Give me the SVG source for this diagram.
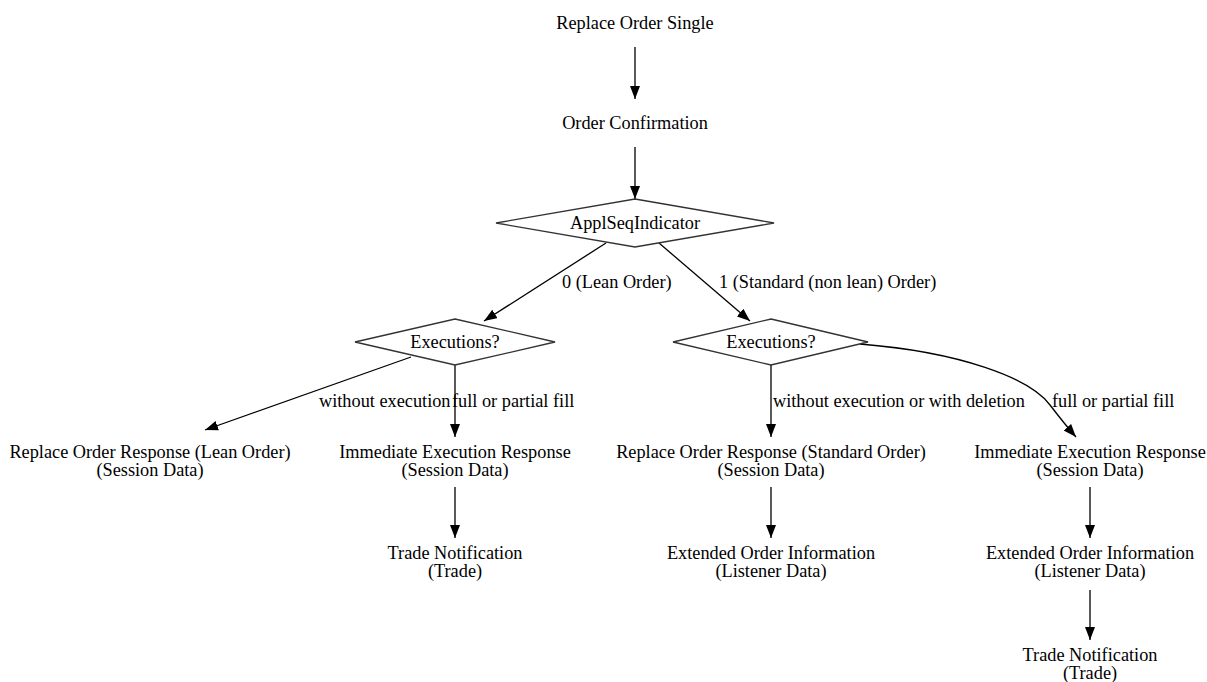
<svg xmlns="http://www.w3.org/2000/svg" width="1207" height="682" viewBox="0 0 1207 682">
<style>
text{font-family:"Liberation Serif","Times New Roman",serif;font-size:18.3px;fill:#000;text-anchor:middle}
.lbl{text-anchor:start}
.d{fill:#fff;stroke:#333;stroke-width:1.3}
.e{fill:none;stroke:#000;stroke-width:1.3}
</style>
<defs>
<marker id="ah" markerUnits="userSpaceOnUse" markerWidth="14" markerHeight="11" refX="13" refY="5" orient="auto">
<path d="M0,0 L13,5 L0,10 z" fill="#000"/>
</marker>
</defs>
<rect width="1207" height="682" fill="#fff"/>
<g id="connectors">
<line class="e" x1="635" y1="47" x2="635" y2="99" marker-end="url(#ah)"/>
<line class="e" x1="635" y1="147" x2="635" y2="199" marker-end="url(#ah)"/>
<line class="e" x1="606" y1="243" x2="484" y2="321" marker-end="url(#ah)"/>
<text class="lbl" x="562" y="288">0 (Lean Order)</text>
<line class="e" x1="659" y1="243" x2="750" y2="321" marker-end="url(#ah)"/>
<text class="lbl" x="719" y="288">1 (Standard (non lean) Order)</text>
<line class="e" x1="411" y1="357" x2="205" y2="430" marker-end="url(#ah)"/>
<text class="lbl" x="319" y="407">without execution</text>
<line class="e" x1="455" y1="365" x2="455" y2="437" marker-end="url(#ah)"/>
<text class="lbl" x="452" y="407">full or partial fill</text>
<line class="e" x1="771" y1="365" x2="771" y2="437" marker-end="url(#ah)"/>
<text class="lbl" x="773" y="407">without execution or with deletion</text>
<path class="e" d="M860,344 C960,352 1030,378 1050,405 C1060,418 1068,428 1076,437" marker-end="url(#ah)"/>
<text class="lbl" x="1052" y="407">full or partial fill</text>
<line class="e" x1="455" y1="487" x2="455" y2="538" marker-end="url(#ah)"/>
<line class="e" x1="771" y1="487" x2="771" y2="538" marker-end="url(#ah)"/>
<line class="e" x1="1090" y1="487" x2="1090" y2="538" marker-end="url(#ah)"/>
<line class="e" x1="1090" y1="590" x2="1090" y2="640" marker-end="url(#ah)"/>
</g>
<g id="replace_order_single"><text x="635" y="29">Replace Order Single</text></g>
<g id="order_confirmation"><text x="635" y="129">Order Confirmation</text></g>
<g id="appl_seq_indicator"><polygon class="d" points="635,199 774,223 635,247 496,223"/><text x="635" y="229">ApplSeqIndicator</text></g>
<g id="executions_lean"><polygon class="d" points="455,319 555,342 455,365 355,342"/><text x="455" y="348">Executions?</text></g>
<g id="executions_std"><polygon class="d" points="771,319 868,342 771,365 673,342"/><text x="771" y="348">Executions?</text></g>
<g id="replace_resp_lean"><text x="150" y="458">Replace Order Response (Lean Order)</text><text x="150" y="476">(Session Data)</text></g>
<g id="imm_exec_lean"><text x="455" y="458">Immediate Execution Response</text><text x="455" y="476">(Session Data)</text></g>
<g id="replace_resp_std"><text x="771" y="458">Replace Order Response (Standard Order)</text><text x="771" y="476">(Session Data)</text></g>
<g id="imm_exec_std"><text x="1090" y="458">Immediate Execution Response</text><text x="1090" y="476">(Session Data)</text></g>
<g id="trade_lean"><text x="455" y="559">Trade Notification</text><text x="455" y="577">(Trade)</text></g>
<g id="ext_order_std"><text x="771" y="559">Extended Order Information</text><text x="771" y="577">(Listener Data)</text></g>
<g id="ext_order_exec"><text x="1090" y="559">Extended Order Information</text><text x="1090" y="577">(Listener Data)</text></g>
<g id="trade_std"><text x="1090" y="661">Trade Notification</text><text x="1090" y="679">(Trade)</text></g>
</svg>
